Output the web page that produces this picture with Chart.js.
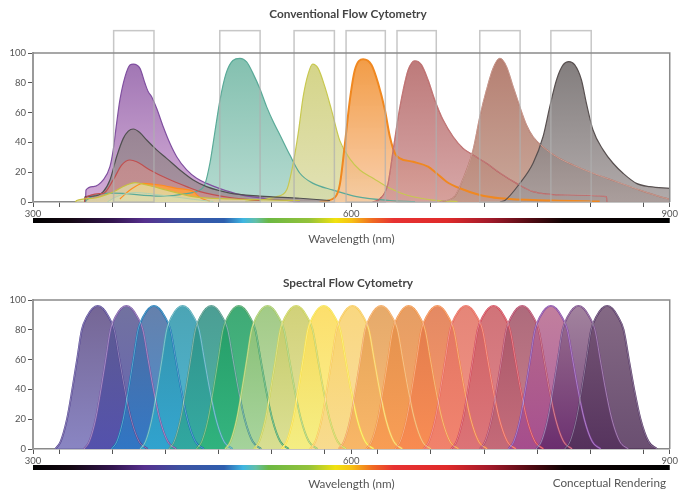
<!DOCTYPE html>
<html>
<head>
<meta charset="utf-8">
<script src="https://cdn.jsdelivr.net/npm/chart.js@4.4.1/dist/chart.umd.min.js"></script>
<style>
  body { margin: 0; background: #fff; }
  #wrap { width: 679px; height: 490px; }
  canvas { display: block; }
</style>
</head>
<body>
<div id="wrap">
  <canvas id="conventional" width="679" height="250"></canvas>
  <canvas id="spectral" width="679" height="240"></canvas>
</div>
<script>
// ---- axis ticks (nm) ----
const xTickValues = [300, 325, 375, 425, 475, 525, 575, 600, 625, 675, 725, 775, 825, 875, 900];
const xLabelValues = [300, 600, 900];
const yTickValues = [0, 20, 40, 60, 80, 100];

// ---- conventional: emission spectra (nm / % max) ----
const purpleNm = [349.5, 349.9, 356.8, 366.2, 372.5, 375.6, 378.8, 381.9, 386.7, 391.4, 394.5, 400.8, 405.5, 408.6, 411.8, 416.5, 422.7, 429, 435.4, 444.8, 454.2, 463.6, 476.1, 495, 523.2, 551.5];
const purpleVal = [0, 8, 10.3, 14.8, 23.7, 35, 52.8, 68.5, 84, 92, 92.6, 89.7, 79.7, 74, 70.7, 62.9, 50.5, 39.4, 30.4, 21.5, 15.9, 12.5, 9, 5, 2, 0.5];
const grayNm = [348.6, 349, 356.8, 366.2, 372.5, 378.8, 385.1, 389.8, 394.5, 400.8, 407.1, 416.5, 425.9, 438.5, 451, 463.6, 485.6, 513.8, 551.5, 579.7];
const grayVal = [0, 3.6, 4, 7, 14.8, 30.4, 42.7, 47.6, 49, 46.5, 41.6, 35, 29.3, 21.5, 14.8, 10.3, 6, 4, 2.5, 1];
const redNm = [348.6, 349, 366.2, 375.6, 383.5, 391.4, 397.7, 410.2, 425.9, 444.8, 457.3, 485.6, 513.8];
const redVal = [0, 2.7, 5.8, 14.8, 24.8, 28.2, 27, 21.5, 15.9, 10.3, 7, 3, 1];
const yellowNm = [340, 341.2, 356.8, 372.5, 388.3, 396.1, 407.1, 425.9, 451, 485.6, 551.5];
const yellowVal = [0, 1, 2.5, 5.8, 11.4, 13, 11.4, 8, 3.6, 2, 1];
const orangeLowNm = [381.9, 391.4, 403.9, 419.6, 435.4, 451, 457.3, 466.7];
const orangeLowVal = [2, 8, 12.5, 11.4, 9.2, 7, 3, 0.5];
const paleNm = [370, 378.8, 396.1, 419.6, 451, 470];
const paleVal = [0, 3.6, 6.3, 4.7, 1.8, 0.3];
const tealNm = [349.5, 349.9, 375.6, 419.6, 447.9, 457.3, 462, 466.7, 471.4, 476.1, 481.8, 488.4, 495, 501.3, 507.5, 513.8, 520.1, 526.3, 532.7, 542.1, 551.5, 564, 582.9, 604.9, 636.3, 660];
const tealVal = [0, 1, 6, 4, 6, 8, 12, 26, 47, 68, 86, 95, 96.4, 94, 86, 76, 64, 54, 45, 31.5, 19.3, 12.5, 8, 3.6, 1, 0.3];
const limeNm = [500, 520, 529.5, 539, 545.2, 549.9, 554.6, 559.3, 563.5, 568.7, 575, 581.3, 589.2, 598.6, 608, 620.5, 636.3, 652, 676.8, 700];
const limeVal = [0.5, 2, 3.6, 8, 26, 46, 70.7, 86, 92.6, 89.7, 77.4, 61.7, 41, 29, 21.5, 15.9, 9.2, 4.7, 1.3, 0.3];
const orangeNm = [570, 584.4, 589.2, 593.9, 598.6, 603.3, 611.1, 619, 625.2, 631.6, 636.3, 641, 645.7, 658.2, 672.3, 680.2, 689.7, 702.2, 721, 739.9, 789.8, 834];
const orangeVal = [0, 3, 12, 39, 68.5, 88.6, 95.8, 92, 79.7, 61.7, 43.8, 32.7, 29.3, 27, 23.7, 19.3, 13.6, 9.2, 4.7, 2.5, 1, 0.3];
const crimsonNm = [620, 626.8, 634.4, 639.4, 644.1, 648.8, 653.5, 659.8, 666.1, 672.3, 678.6, 686.5, 695.9, 705.3, 714.7, 727.3, 739.9, 755.6, 771.2, 802.7, 840.4, 840.8];
const crimsonVal = [0, 2, 12, 35, 57, 75, 88.6, 94.8, 92, 81.9, 68.5, 55, 43.8, 36, 31.5, 26, 19.5, 12.5, 7, 4.7, 3.6, 0];
const brownNm = [683.4, 697.5, 702.2, 714.7, 721, 727.3, 733.6, 739.9, 746.2, 752.4, 758.7, 765, 771.2, 780.6, 793.3, 809, 827.7, 849.8, 871.7, 890.6, 900];
const brownVal = [0, 4, 10.3, 35, 57, 75, 89.7, 96.4, 90.8, 77.4, 64, 51.7, 43.8, 37, 30.4, 24.8, 19.3, 13.6, 8, 3.6, 1.8];
const darkNm = [740, 744.6, 758.7, 771.2, 780.6, 787, 793.3, 799.5, 804.9, 810.5, 816.8, 821.5, 827.7, 837.2, 846.6, 856, 868.6, 881.2, 900];
const darkVal = [0, 1, 12.5, 26, 43.8, 64, 81.9, 92, 94.2, 92, 81.9, 66.2, 48.3, 35, 26, 19.3, 12.5, 10.3, 9.2];

// band-pass filter windows (nm)
const filterLow = [376, 476, 546, 595, 643, 721, 788];
const filterHigh = [414, 514, 584, 632, 680, 759, 826];
const filterTop = 115;

// ---- spectral: detector channel peaks (nm) and one channel profile ----
const spectralPeaks = [361, 388, 414, 441, 468, 494, 521, 548, 574, 601, 628, 654, 681, 708, 734, 761, 788, 814, 841];
const profileOffset = [-40, -35, -29, -24, -19.5, -15, -10, -5, 0, 5, 10, 15.5, 20.5, 25.5, 31.5, 39, 47];
const profileValue = [0, 5, 20, 40, 60, 80, 89, 94.2, 96, 94.2, 89, 80, 60, 40, 20, 5, 0];

const spectralTop = ['#5c4a80', '#5a5a8e', '#4c6a9c', '#2c94a6', '#2c8c80', '#1c9a5c', '#90c070', '#c8c860', '#fcd850', '#f8d068',
  '#e09a50', '#e08c48', '#de7448', '#e07060', '#c85a60', '#9e5064', '#b86a8c', '#94708e', '#705070'];
const spectralBottom = ['#7570b8', '#4a48a8', '#2a7cc8', '#30aad0', '#30a898', '#30b478', '#b8d8a0', '#e0e090', '#f8f080', '#f8d890',
  '#f8b060', '#f89850', '#f88850', '#f08070', '#d87078', '#c06878', '#a04890', '#602868', '#503058'];
const spectralLine = ['#504090', '#7050a0', '#1070b0', '#40a0b0', '#409080', '#40a060', '#a0c860', '#c8d050', '#f8e040', '#f8c850',
  '#f0a050', '#f09040', '#f08040', '#e86050', '#d04050', '#b04060', '#8040a0', '#704080', '#503060'];

const spectrumStops = [[300, '#000000'], [335, '#140812'], [375, '#33154f'], [405, '#56308e'], [440, '#3c52a2'], [480, '#2e5eae'],
  [498, '#3fb6e2'], [510, '#62bfa8'], [522, '#6cb843'], [560, '#93c23a'], [585, '#f1e20f'], [600, '#f7c214'],
  [620, '#f06a22'], [640, '#e73232'], [690, '#df2a2a'], [730, '#a31a2a'], [770, '#4e0a12'], [800, '#100304'], [900, '#000000']];

const FONT = 'Lato, "Open Sans", sans-serif';

function points(nm, val) {
  return nm.map((x, i) => ({ x: x, y: val[i] }));
}

function vGradient(top, bottom) {
  return function(context) {
    const { ctx, chartArea, scales } = context.chart;
    if (!chartArea) return top;
    const g = ctx.createLinearGradient(0, scales.y.getPixelForValue(100), 0, scales.y.getPixelForValue(0));
    g.addColorStop(0, top);
    g.addColorStop(1, bottom);
    return g;
  };
}

function curve(data, top, bottom, line, width, order) {
  return {
    data: data,
    fill: 'origin',
    backgroundColor: vGradient(top, bottom),
    borderColor: line,
    borderWidth: width,
    pointRadius: 0,
    cubicInterpolationMode: 'monotone',
    order: order
  };
}

// thin light line laid over an edge (the "double line" look)
function sheen(data, alpha, order) {
  return {
    data: data,
    fill: false,
    borderColor: 'rgba(255,255,255,' + alpha + ')',
    borderWidth: 0.7,
    pointRadius: 0,
    cubicInterpolationMode: 'monotone',
    order: order
  };
}

// titles, frame, colour bar
const decorPlugin = {
  id: 'decor',
  afterDraw(chart, args, opts) {
    const { ctx, chartArea: a, scales } = chart;
    ctx.save();
    ctx.strokeStyle = '#8a8a8a';
    ctx.lineWidth = 1.5;
    ctx.beginPath();
    ctx.moveTo(a.left, a.top);
    ctx.lineTo(a.right, a.top);
    ctx.lineTo(a.right, a.bottom);
    ctx.stroke();

    const g = ctx.createLinearGradient(a.left, 0, a.right, 0);
    spectrumStops.forEach(function(s) {
      g.addColorStop((scales.x.getPixelForValue(s[0]) - a.left) / (a.right - a.left), s[1]);
    });
    ctx.fillStyle = g;
    ctx.fillRect(a.left, opts.barY, a.right - a.left, 5);

    ctx.textBaseline = 'middle';
    ctx.textAlign = 'center';
    ctx.fillStyle = '#444';
    ctx.font = 'bold 11.8px ' + FONT;
    ctx.fillText(opts.title, 348, opts.titleY);
    ctx.fillStyle = '#555';
    ctx.font = '11.7px ' + FONT;
    ctx.fillText('Wavelength (nm)', (a.left + a.right) / 2, opts.labelY);
    if (opts.note) {
      ctx.textAlign = 'right';
      ctx.fillText(opts.note, 666, opts.labelY - 1);
    }
    ctx.restore();
  }
};

// filter boxes on the conventional chart
const filterPlugin = {
  id: 'filters',
  afterDatasetsDraw(chart, args, opts) {
    if (!opts.show) return;
    const { ctx, scales } = chart;
    ctx.save();
    ctx.strokeStyle = 'rgba(175,175,175,0.7)';
    ctx.lineWidth = 1.5;
    const yTop = scales.y.getPixelForValue(filterTop);
    const yBot = scales.y.getPixelForValue(0);
    filterLow.forEach(function(lo, i) {
      const x1 = scales.x.getPixelForValue(lo);
      const x2 = scales.x.getPixelForValue(filterHigh[i]);
      ctx.strokeRect(x1, yTop, x2 - x1, yBot - yTop);
    });
    ctx.restore();
  }
};

function makeOptions(padTop, xHeight, decor, showFilters) {
  return {
    responsive: false,
    animation: false,
    events: [],
    layout: { padding: { top: padTop, right: 9, left: 0, bottom: 0 } },
    plugins: {
      legend: { display: false },
      tooltip: { enabled: false },
      filler: { drawTime: 'beforeDatasetsDraw' },
      decor: decor,
      filters: { show: showFilters }
    },
    scales: {
      x: {
        type: 'linear',
        min: 300,
        max: 900,
        afterBuildTicks: function(s) { s.ticks = xTickValues.map(v => ({ value: v })); },
        afterFit: function(s) { s.height = xHeight; },
        ticks: {
          autoSkip: false,
          maxRotation: 0,
          padding: 1,
          color: '#555',
          font: { family: FONT, size: 9.5 },
          callback: v => xLabelValues.includes(v) ? String(v) : ''
        },
        grid: { drawOnChartArea: false, tickLength: 5, color: '#555' },
        border: { color: '#8a8a8a', width: 1.5 }
      },
      y: {
        min: 0,
        max: 100,
        afterBuildTicks: function(s) { s.ticks = yTickValues.map(v => ({ value: v })); },
        afterFit: function(s) { s.width = 33; },
        ticks: { padding: 2, color: '#555', font: { family: FONT, size: 9.5 } },
        grid: { drawOnChartArea: false, tickLength: 5, color: '#555' },
        border: { color: '#9a9a9a', width: 2 }
      }
    }
  };
}

// conventional chart (lower order = drawn on top)
const conventionalSets = [
  curve(points(purpleNm, purpleVal), '#8c5aa4d9', '#cc9ed0d9', '#8050a0', 1.2, 12),
  curve(points(tealNm, tealVal), '#6cb4a0d9', '#a8d4c8d9', '#5aaa98', 1.2, 11),
  curve(points(limeNm, limeVal), '#cccc70d9', '#dcdca8d9', '#c8c850', 1.2, 10),
  curve(points(orangeNm, orangeVal), '#f08c28e0', '#f8c8a0d9', '#f08820', 2, 9),
  curve(points(crimsonNm, crimsonVal), '#b06060d9', '#d09898d9', '#b05050', 1.2, 8),
  curve(points(brownNm, brownVal), '#a86858d9', '#c09888d9', '#a86050', 1.2, 7),
  curve(points(darkNm, darkVal), '#6a6464d9', '#a49c9cd9', '#585050', 1.2, 6),
  curve(points(grayNm, grayVal), '#857580d9', '#a08f96d9', '#505050', 1.2, 5),
  curve(points(redNm, redVal), '#c08080d9', '#c89090d9', '#c05050', 1.2, 4),
  curve(points(orangeLowNm, orangeLowVal), '#ff9830e6', '#ffa040e6', '#ff8c20', 1.2, 3),
  curve(points(yellowNm, yellowVal), '#d8d090cc', '#e0dca8cc', '#c8c040', 1.2, 2),
  curve(points(paleNm, paleVal), '#d8e0b899', '#d8e0b899', '#b0d0b0', 1, 1),
  sheen(points(brownNm, brownVal), 0.55, 0),
  sheen(points(crimsonNm, crimsonVal), 0.35, 0)
];

new Chart(document.getElementById('conventional'), {
  type: 'line',
  data: { datasets: conventionalSets },
  options: makeOptions(53, 48, { title: 'Conventional Flow Cytometry', titleY: 14, barY: 218, labelY: 239 }, true),
  plugins: [decorPlugin, filterPlugin]
});

// spectral chart: later channels sit on top
const spectralSets = [];
spectralPeaks.forEach(function(peak, i) {
  const data = profileOffset.map((off, k) => ({ x: peak + off, y: profileValue[k] }));
  spectralSets.push(curve(data, spectralTop[i] + 'd9', spectralBottom[i] + 'd9', spectralLine[i], 1.8, spectralPeaks.length - i));
  spectralSets.push(sheen(data, 0.5, 0));
});

new Chart(document.getElementById('spectral'), {
  type: 'line',
  data: { datasets: spectralSets },
  options: makeOptions(50, 41, { title: 'Spectral Flow Cytometry', titleY: 33, barY: 215, labelY: 234, note: 'Conceptual Rendering' }, false),
  plugins: [decorPlugin, filterPlugin]
});
</script>
</body>
</html>
